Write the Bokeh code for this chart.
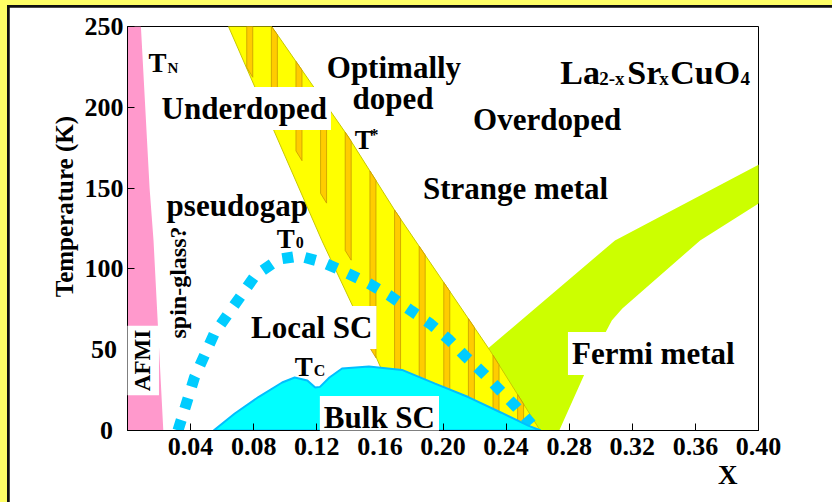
import numpy as np
from bokeh.plotting import figure
from bokeh.layouts import column
from bokeh.models import Label, FixedTicker, NumeralTickFormatter, Range1d, Title
from bokeh.embed import file_html
from bokeh.resources import INLINE

# ---------------- data ----------------
afm_edge_x = [0.0085, 0.0140, 0.0165, 0.0227]
afm_edge_T = [250, 150, 117.6, 0]

tstar_left_x = [0.064, 0.1232, 0.153, 0.178]
tstar_left_T = [250, 117.6, 55.7, 0]
tstar_right_x = [0.0914, 0.1403, 0.1695, 0.2298, 0.2616]
tstar_right_T = [250, 181.3, 136.1, 49.5, 0]

stripe_x = [0.0756, 0.0912, 0.1068, 0.1224, 0.1380, 0.1537, 0.1693, 0.1849,
            0.2005, 0.2161, 0.2317, 0.2473]
stripe_bottom_T = [224.6, 201, 173, 146.7, 111.4, 51, 0, 0, 0, 0, 0, 0]

fermi_x = [0.258, 0.227, 0.309, 0.401, 0.401, 0.363, 0.3137, 0.307, 0.2927, 0.2737]
fermi_T = [0, 49.5, 117.6, 165, 141, 117.6, 75.5, 68, 41.5, 0]

t0_x = [0.032, 0.0425, 0.055, 0.072, 0.081, 0.096, 0.109, 0.124, 0.138, 0.153,
        0.166, 0.180, 0.192, 0.204, 0.214, 0.226, 0.236, 0.247, 0.256]
t0_T = [0, 33, 60, 83.5, 96, 106, 108, 104, 98, 91, 83.5, 74, 66, 56, 46, 35,
        25, 14, 4]

bulk_x = [0.0546, 0.068, 0.083, 0.098, 0.106, 0.114, 0.119, 0.122, 0.128, 0.136,
          0.153, 0.174, 0.195, 0.216, 0.237, 0.254, 0.262]
bulk_T = [0, 10.5, 20.7, 29.7, 32.8, 31, 26.6, 27, 32.8, 38.4, 39.6, 37.5, 29,
          20.7, 11, 3, 0]

x_ticks = [0.04, 0.08, 0.12, 0.16, 0.20, 0.24, 0.28, 0.32, 0.36, 0.40]
y_ticks = [0, 50, 100, 150, 200, 250]
y_tick_labels = ["0", "50", "100", "150", "200", "250"]

FONT = "Liberation Serif"

# ---------------- figure ----------------
p = figure(width=823, height=495, x_range=Range1d(0, 0.40), y_range=Range1d(0, 250),
           output_backend="svg", toolbar_location=None,
           min_border_left=118, min_border_right=74, min_border_top=19,
           min_border_bottom=72, background_fill_color="white",
           border_fill_color="white", outline_line_color="black",
           outline_line_width=1)
p.grid.visible = False

for ax in (p.xaxis[0], p.yaxis[0]):
    ax.major_tick_in = 7
    ax.major_tick_out = 0
    ax.minor_tick_line_color = None
    ax.axis_line_color = "black"
    ax.major_tick_line_color = "black"
    ax.major_label_text_font = FONT
    ax.major_label_text_font_size = "26px"
    ax.major_label_text_font_style = "bold"
    ax.major_label_text_color = "black"
p.xaxis.ticker = FixedTicker(ticks=x_ticks)
p.xaxis.formatter = NumeralTickFormatter(format="0.00")
p.xaxis.major_label_standoff = 7
p.yaxis.ticker = FixedTicker(ticks=y_ticks)
p.yaxis.major_label_standoff = 4
# the reference centres its y tick labels in a column: pad short ones
pad = {1: "\u2009\u2009", 2: "\u00a0"}
p.yaxis.major_label_overrides = {t: s + pad.get(len(s), "")
                                 for t, s in zip(y_ticks, y_tick_labels)}
# y-axis title; leading no-break spaces shift it up along the axis
p.yaxis.axis_label = "\u00a0" * 7 + "Temperature (K)"
p.yaxis.axis_label_text_font = FONT
p.yaxis.axis_label_text_font_size = "25px"
p.yaxis.axis_label_text_font_style = "bold"
p.yaxis.axis_label_text_color = "black"
p.yaxis.axis_label_standoff = 4

p.add_layout(Title(text="X", align="right", offset=21, standoff=0,
                   text_font=FONT, text_font_size="27px",
                   text_baseline="alphabetic",
                   text_font_style="bold", text_color="black"), "below")


def lab(text, x, y, size, align="left", bold=True, angle=0.0,
        baseline="alphabetic", box=False, level="annotation"):
    kw = dict(x=x, y=y, text=text, text_font=FONT, text_font_size=f"{size}px",
              text_align=align, text_baseline=baseline, angle=angle,
              text_font_style="bold" if bold else "normal", text_color="black")
    if box:
        kw.update(background_fill_color="white", background_fill_alpha=1.0, padding=4)
    l = Label(**kw)
    l.level = level
    p.add_layout(l)


# pseudogap label sits under the yellow band
lab("pseudogap", 0.0248, 139.2, 31, level="underlay")

# AFMI region
p.patch([0] + afm_edge_x + [0], [250] + afm_edge_T + [0],
        fill_color="#FF99CC", line_color=None)

# Fermi metal band
p.patch(fermi_x, fermi_T, fill_color="#CCFF00", line_color=None)

# T* band
p.patch(tstar_left_x + tstar_right_x[::-1], tstar_left_T + tstar_right_T[::-1],
        fill_color="#FFFF00", line_color="#C8C800", line_width=1)

# stripes
sw = 0.0038
sxs, sys_ = [], []
for sx, sb in zip(stripe_x, stripe_bottom_T):
    x0, x1 = sx, sx + sw
    t0v = float(np.interp(x0, tstar_right_x, tstar_right_T))
    t1v = float(np.interp(x1, tstar_right_x, tstar_right_T))
    b0 = sb
    b1 = max(0.0, sb - 6) if sb > 0 else 0.0
    sxs.append([x0, x1, x1, x0])
    sys_.append([min(250, t0v), min(250, t1v), b1, b0])
p.patches(sxs, sys_, fill_color="#FFCC00", line_color="#C89B00", line_width=0.8)

# T0 dotted line
p.line(t0_x, t0_T, line_color="#00CCFF", line_width=11, line_dash="11 12",
       line_cap="butt")

# Bulk SC dome
p.patch(bulk_x, bulk_T, fill_color="#00FFFF", line_color="#00BFFF", line_width=2)

# ---------------- labels ----------------
lab("T", 0.0133, 227.7, 27)
lab("N", 0.0254, 224.6, 15)
lab("Optimally", 0.1689, 224.6, 31, align="center")
lab("doped", 0.1683, 205.4, 31, align="center")
lab("Underdoped", 0.074, 199.3, 31, align="center", box=True)
lab("T", 0.1441, 179.5, 27)
lab("*", 0.1537, 183, 17)
lab("Overdoped", 0.266, 192.4, 31, align="center")
# La2-xSrxCuO4
lab("La", 0.2743, 221.5, 34)
lab("2-x", 0.2990, 217.8, 19)
lab("Sr", 0.3168, 221.5, 34)
lab("x", 0.3371, 217.8, 19)
lab("CuO", 0.3441, 221.5, 34)
lab("4", 0.3886, 217.8, 19)

lab("Strange metal", 0.246, 149.8, 31, align="center")
lab("T", 0.0946, 118.8, 27)
lab("0", 0.1067, 116.3, 16)
lab("spin-glass?", 0.0317, 91.6, 24, align="center", baseline="middle",
    angle=np.pi / 2)
lab("Local SC", 0.1168, 63.7, 31, align="center", box=True)
lab("T", 0.106, 39.0, 27)
lab("C", 0.1181, 37.1, 16)
lab("Bulk SC", 0.1597, 8.0, 31, align="center", box=True)
lab("Fermi metal", 0.3333, 47.6, 31, align="center", box=True)
lab("AFMI", 0.0095, 43.3, 23, align="center", baseline="middle",
    angle=np.pi / 2, box=True)

# ---------------- yellow page border via nested layouts ----------------
inner = column(p, styles={"background-color": "#111111",
                          "padding-top": "2px", "padding-left": "2px"})
outer = column(inner, styles={"background-color": "#FFFF66",
                              "padding-top": "5px", "padding-left": "7px"})

open("out.html", "w").write(file_html(outer, INLINE))
